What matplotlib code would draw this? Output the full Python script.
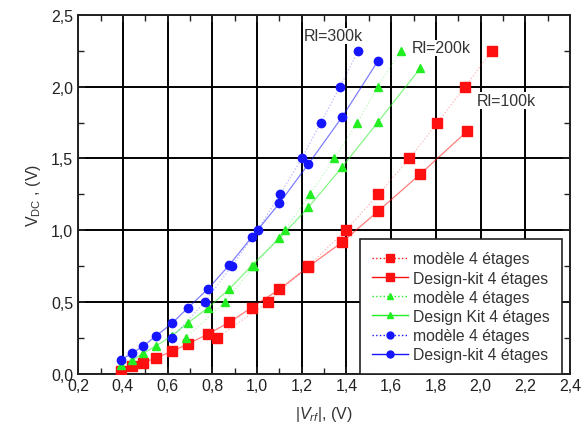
import matplotlib
matplotlib.use("Agg")
import matplotlib.pyplot as plt
from matplotlib.ticker import MultipleLocator, FuncFormatter
from matplotlib.lines import Line2D

plt.rcParams['font.family'] = ['Liberation Sans', 'DejaVu Sans']
plt.rcParams['mathtext.fontset'] = 'custom'
plt.rcParams['mathtext.rm'] = 'Liberation Sans'
plt.rcParams['mathtext.it'] = 'Liberation Sans:italic'

# Design-kit x values (shared)
dk_x = [0.39, 0.44, 0.49, 0.55, 0.62, 0.69, 0.78, 0.876, 0.976, 1.10, 1.23, 1.38, 1.54, 1.73, 1.94]

# Rl = 100k (red)
red_dk_y = [0.02, 0.05, 0.075, 0.11, 0.155, 0.205, 0.275, 0.357, 0.46, 0.587, 0.745, 0.915, 1.13, 1.39, 1.69]
red_mod_x = [0.822, 1.051, 1.23, 1.398, 1.543, 1.682, 1.807, 1.931, 2.05]
red_mod_y = [0.25, 0.50, 0.75, 1.00, 1.25, 1.50, 1.75, 2.00, 2.25]

# Rl = 200k (green)
green_dk_x = dk_x[:14]
green_dk_y = [0.059, 0.092, 0.14, 0.194, 0.264, 0.352, 0.457, 0.589, 0.752, 0.943, 1.159, 1.438, 1.752, 2.128]
green_mod_x = [0.682, 0.857, 0.988, 1.125, 1.237, 1.346, 1.449, 1.54, 1.643]
green_mod_y = [0.25, 0.50, 0.75, 1.00, 1.25, 1.50, 1.75, 2.00, 2.25]

# Rl = 300k (blue)
blue_dk_x = dk_x[:13]
blue_dk_y = [0.094, 0.141, 0.19, 0.264, 0.35, 0.457, 0.589, 0.757, 0.95, 1.187, 1.461, 1.787, 2.177]
blue_mod_x = [0.62, 0.767, 0.887, 1.003, 1.103, 1.20, 1.286, 1.371, 1.453]
blue_mod_y = [0.25, 0.50, 0.75, 1.00, 1.25, 1.50, 1.75, 2.00, 2.25]

labels = ["modèle 4 étages", "Design-kit 4 étages",
          "modèle 4 étages", "Design Kit 4 étages",
          "modèle 4 étages", "Design-kit 4 étages"]

fig = plt.figure(figsize=(5.84, 4.39), dpi=100)
ax = fig.add_axes([0.1339, 0.1469, 0.976 - 0.1339, 0.9636 - 0.1469])

red = '#ff1010'
green = '#22ee22'
blue = '#1515ff'

series = [
    (red_mod_x, red_mod_y, ':', red, 's', 6.5),
    (dk_x, red_dk_y, '-', red, 's', 6.5),
    (green_mod_x, green_mod_y, ':', green, '^', 6),
    (green_dk_x, green_dk_y, '-', green, '^', 6),
    (blue_mod_x, blue_mod_y, ':', blue, 'o', 6),
    (blue_dk_x, blue_dk_y, '-', blue, 'o', 6),
]
handles = []
for (xs, ys, ls, c, m, ms), lab in zip(series, labels):
    lalpha = 0.3 if ls == ':' else 0.55
    ax.plot(xs, ys, ls, color=c, lw=0.9, alpha=lalpha, zorder=2)
    ax.plot(xs, ys, linestyle='none', marker=m, ms=ms, color=c, mec=c, zorder=3)
    handles.append(Line2D([], [], linestyle=ls, color=c, lw=1.0, marker=m, ms=ms - 1, mec=c))

ax.set_xlim(0.2, 2.4)
ax.set_ylim(0.0, 2.5)
ax.xaxis.set_major_locator(MultipleLocator(0.2))
ax.xaxis.set_minor_locator(MultipleLocator(0.1))
ax.yaxis.set_major_locator(MultipleLocator(0.5))
ax.yaxis.set_minor_locator(MultipleLocator(0.25))
fmt = FuncFormatter(lambda v, p: f"{v:.1f}".replace('.', ','))
ax.xaxis.set_major_formatter(fmt)
ax.yaxis.set_major_formatter(fmt)

ax.grid(True, which='major', color='black', lw=1.4)
ax.tick_params(which='both', direction='in', top=True, right=True, colors='#222222', labelsize=11.5)
ax.tick_params(which='major', length=5, width=1.2)
ax.tick_params(which='minor', length=4, width=1.0)
for s in ax.spines.values():
    s.set_linewidth(1.4)
    s.set_color('#222222')

ax.set_xlabel(r"$|V_{rf}|$, (V)", fontsize=11.5, color='#333333', labelpad=8)
ax.set_ylabel(r"V$_{\mathrm{DC}}$ , (V)", fontsize=11.5, color='#333333', labelpad=6)

ax.text(1.207, 2.354, "Rl=300k", fontsize=11.5, color='#333333', va='center', ha='left',
        bbox=dict(facecolor='white', edgecolor='none', pad=0.5))
ax.text(1.692, 2.27, "Rl=200k", fontsize=11.5, color='#333333', va='center', ha='left',
        bbox=dict(facecolor='white', edgecolor='none', pad=0.5))
ax.text(1.983, 1.904, "Rl=100k", fontsize=11.5, color='#333333', va='center', ha='left',
        bbox=dict(facecolor='white', edgecolor='none', pad=0.5))

leg = ax.legend(handles, labels, loc='lower right', bbox_to_anchor=(0.983, -0.002), fontsize=11.3,
                frameon=True, fancybox=False, edgecolor='#222222', framealpha=1, handlelength=2.3,
                labelspacing=0.27, borderpad=0.75, handletextpad=0.35, borderaxespad=0.0)
leg.get_frame().set_linewidth(1.2)
for t in leg.get_texts():
    t.set_color('#333333')
leg.set_zorder(5)

fig.savefig("out.png", dpi=100)
